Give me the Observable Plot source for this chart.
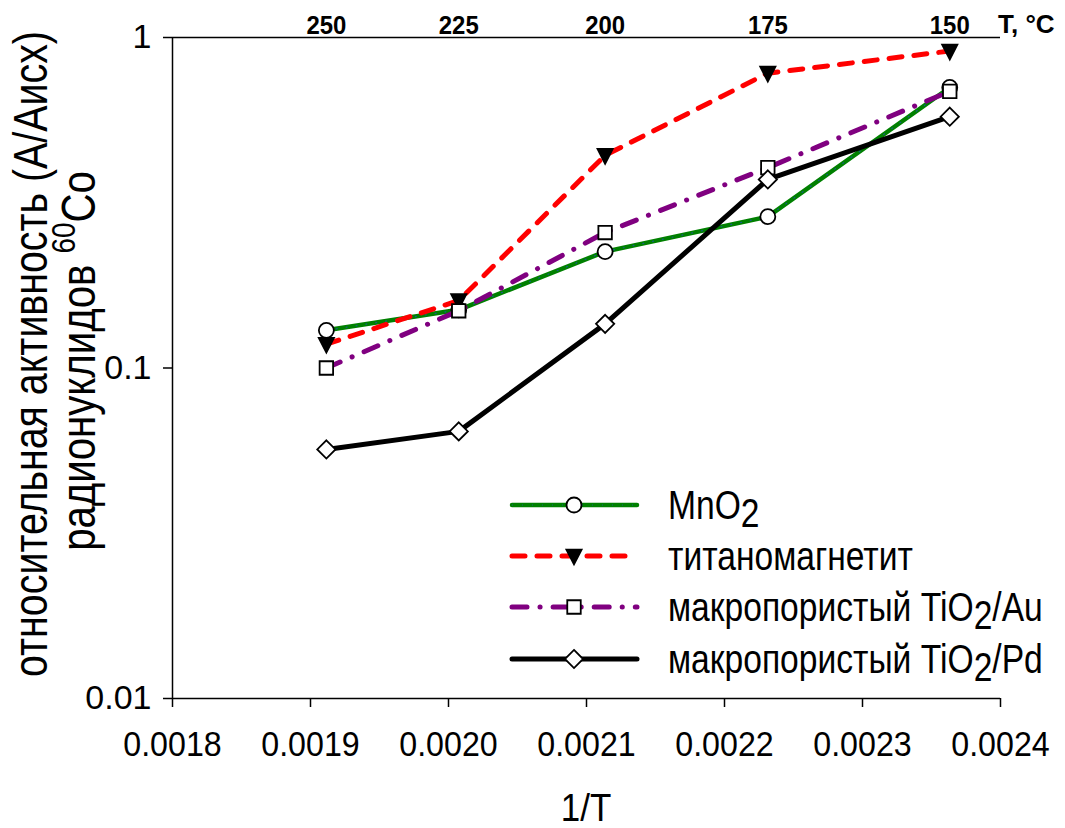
<!DOCTYPE html>
<html><head><meta charset="utf-8">
<script src="https://cdn.jsdelivr.net/npm/d3@7"></script>
<script src="https://cdn.jsdelivr.net/npm/@observablehq/plot@0.6"></script>
<style>
body{margin:0;background:#fff;}
#wrap{position:relative;width:1065px;height:828px;}
</style></head><body><div id="wrap"></div>
<script>
// ---- data ----
const tempC = [250, 225, 200, 175, 150];              // top axis, °C
const seriesNames = ["MnO2", "титаномагнетит", "макропористый TiO2/Au", "макропористый TiO2/Pd"];
const mno2   = [0.130, 0.150, 0.225, 0.287, 0.706];
const titano = [0.118, 0.160, 0.440, 0.780, 0.910];
const tio2Au = [0.100, 0.149, 0.257, 0.404, 0.687];
const tio2Pd = [0.0567, 0.0643, 0.136, 0.372, 0.576];
const xTicks = [0.0018, 0.0019, 0.0020, 0.0021, 0.0022, 0.0023, 0.0024];
const yTicks = [0.01, 0.1, 1];

const invT = tempC.map(t => 1 / (t + 273.15));

const FONT = "'Liberation Sans', Arial, sans-serif";
const NARROW = " scale(0.82,1)";
const SEMI = " scale(0.92,1)";

const triDown = {draw(ctx, size) {
  const r = Math.sqrt(size / Math.PI);
  ctx.moveTo(0, r * 1.05); ctx.lineTo(-r * 0.95, -r * 0.8); ctx.lineTo(r * 0.95, -r * 0.8); ctx.closePath();
}};

const styles = [
  {name: seriesNames[0], values: mno2,   stroke: "#008000", width: 4.5, dash: null,            symbol: "circle",   fill: "white", r: 7.5},
  {name: seriesNames[1], values: titano, stroke: "#ff0000", width: 5,   dash: "13,12",         symbol: triDown,    fill: "black", r: 8},
  {name: seriesNames[2], values: tio2Au, stroke: "#800080", width: 5,   dash: "15,13,0.1,13",  symbol: "square",   fill: "white", r: 7.6},
  {name: seriesNames[3], values: tio2Pd, stroke: "#000000", width: 5,   dash: null,            symbol: "diamond2", fill: "white", r: 8.2}
];

const rows = styles.map(s => s.values.map((v, i) => ({name: s.name, x: invT[i], y: v})));

const seriesMarks = [];
styles.forEach((s, k) => {
  seriesMarks.push(Plot.line(rows[k], {x: "x", y: "y", stroke: s.stroke, strokeWidth: s.width,
    strokeDasharray: s.dash, strokeLinecap: "round", strokeLinejoin: "round"}));
  if (k === 0) seriesMarks.push(Plot.line(rows[k], {x: "x", y: "y", stroke: "#2050c0", strokeWidth: 1.2,
    strokeDasharray: "1,9", strokeOpacity: 0.7}));
  seriesMarks.push(Plot.dot(rows[k], {x: "x", y: "y", symbol: s.symbol, r: s.r, fill: s.fill,
    stroke: "black", strokeWidth: 1.8}));
});

const plot = Plot.plot({
  width: 1065, height: 828,
  marginLeft: 172, marginRight: 65, marginTop: 37, marginBottom: 130,
  style: {background: "white", fontFamily: FONT, color: "black"},
  x: {domain: [0.0018, 0.0024], label: null},
  y: {type: "log", domain: [0.01, 1], label: null},
  marks: [
    Plot.axisX({ticks: xTicks, tickFormat: d3.format(".4f"), tickSize: 9, tickPadding: 24,
      fontSize: 35, label: null, strokeWidth: 1.5}),
    Plot.axisX({anchor: "top", ticks: invT, tickFormat: d => String(Math.round(1 / d - 273.15)),
      tickSize: 0, tickPadding: 4, fontSize: 26, fontWeight: "bold", label: null}),
    Plot.axisY({ticks: yTicks, tickFormat: d3.format("~g"), tickSize: 9, tickPadding: 12,
      fontSize: 34, label: null, strokeWidth: 1.5}),
    Plot.ruleX([0.0018], {strokeWidth: 1.5}),
    Plot.ruleY([0.01], {strokeWidth: 1.5}),
    Plot.ruleY([1], {strokeWidth: 1.5}),
    ...seriesMarks
  ]
});
document.getElementById("wrap").appendChild(plot);

const svg = d3.select(plot);
// slightly condensed look for the x-axis labels
svg.selectAll("g[aria-label='x-axis tick label'] text").each(function() {
  const t = this.getAttribute("transform");
  if (t && t.includes("translate")) this.setAttribute("transform", t + SEMI);
});

// ---- titles and legend (overlay text in pixel layout) ----
const g = svg.append("g").attr("fill", "black").style("font-family", FONT);

// y title
g.append("text").attr("transform", "translate(47,354) rotate(-90)" + NARROW).attr("text-anchor", "middle")
  .attr("font-size", 48).text("относительная активность (А/Аисх)");
const t2 = g.append("text").attr("transform", "translate(95,361) rotate(-90)" + NARROW).attr("text-anchor", "middle")
  .attr("font-size", 49);
t2.append("tspan").text("радионуклидов ");
t2.append("tspan").attr("dy", -20).attr("font-size", 34).text("60");
t2.append("tspan").attr("dy", 20).text("Co");

// x title
g.append("text").attr("transform", "translate(586,821)" + SEMI).attr("text-anchor", "middle")
  .attr("font-size", 38).text("1/T");

// top-axis unit
g.append("text").attr("transform", "translate(998,33)").attr("text-anchor", "start").attr("font-size", 26)
  .attr("font-weight", "bold").text("T, °C");

// legend
const legRows = [505, 556, 607, 659];
const symMap = {circle: d3.symbolCircle, square: d3.symbolSquare, diamond2: d3.symbolDiamond2};
styles.forEach((s, k) => {
  const y = legRows[k];
  g.append("line").attr("x1", 512).attr("x2", 637).attr("y1", y).attr("y2", y)
    .attr("stroke", s.stroke).attr("stroke-width", s.width).attr("stroke-dasharray", s.dash)
    .attr("stroke-linecap", "round");
  if (k === 0) g.append("line").attr("x1", 512).attr("x2", 637).attr("y1", y).attr("y2", y)
    .attr("stroke", "#2050c0").attr("stroke-width", 1.2).attr("stroke-dasharray", "1,9").attr("stroke-opacity", 0.7);
  const sym = typeof s.symbol === "string" ? symMap[s.symbol] : s.symbol;
  g.append("path").attr("transform", `translate(574,${y})`)
    .attr("d", d3.symbol(sym, Math.PI * s.r * s.r)())
    .attr("fill", s.fill).attr("stroke", "black").attr("stroke-width", 1.8);
  const txt = g.append("text").attr("transform", `translate(668,${y + 14})` + NARROW)
    .attr("text-anchor", "start").attr("font-size", 41);
  const m = s.name.match(/^(.*O)2(.*)$/);
  if (m) {
    txt.append("tspan").text(m[1]);
    txt.append("tspan").attr("dy", 8).text("2");
    txt.append("tspan").attr("dy", -8).text(m[2]);
  } else {
    txt.text(s.name);
  }
});
</script>
</body></html>
